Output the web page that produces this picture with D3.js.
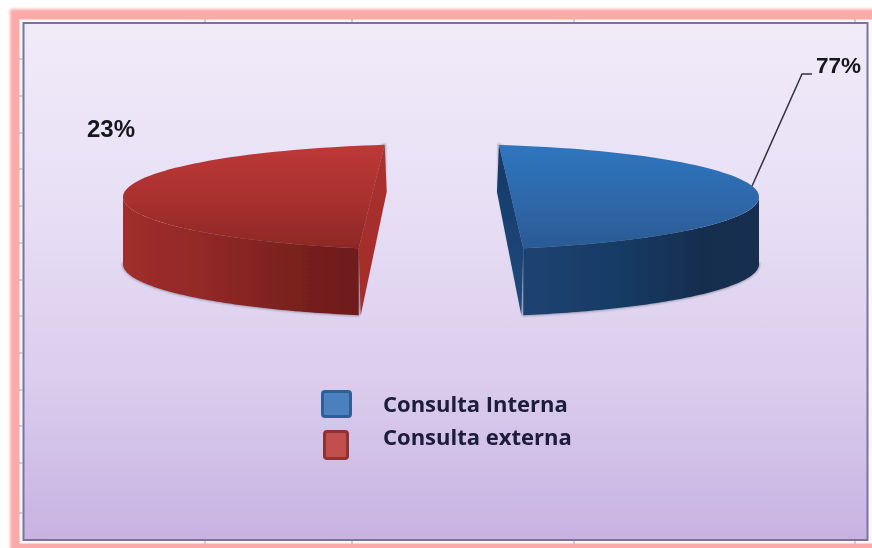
<!DOCTYPE html>
<html><head><meta charset="utf-8">
<script src="https://cdn.jsdelivr.net/npm/d3@7"></script>
<style>html,body{margin:0;padding:0;background:#fff;overflow:hidden}svg{display:block}</style>
</head><body><svg id="c" width="872" height="548"></svg>
<script>
const categories = ["Consulta Interna", "Consulta externa"];
const values = [77, 23];
const tickTopX = [205, 352, 574, 855];
const tickLeftY = [59, 96, 133, 169, 206, 243, 280, 316, 353, 390, 426, 463, 513];

const W = 872, H = 548;
const svg = d3.select("#c");
const defs = svg.append("defs");
function grad(id, x2, y2, stops){
  const g = defs.append("linearGradient").attr("id", id).attr("x1",0).attr("y1",0).attr("x2",x2).attr("y2",y2);
  stops.forEach(s => g.append("stop").attr("offset", s[0]).attr("stop-color", s[1]));
}
grad("panel",0,1,[[0,"#f0ebf9"],[0.35,"#e8dff5"],[0.7,"#dacced"],[1,"#c8b2e2"]]);
grad("topBlue",0,1,[[0,"#2f75bf"],[0.5,"#2f69ab"],[1,"#2b5a94"]]);
grad("topRed",0,1,[[0,"#bd3837"],[0.55,"#a8302e"],[1,"#8c2825"]]);
grad("frontBlue",1,0,[[0,"#1c4372"],[0.45,"#183a63"],[0.75,"#132d4e"],[1,"#152f4f"]]);
grad("frontRed",1,0,[[0,"#a12e2c"],[0.4,"#8f2826"],[0.8,"#751f1c"],[1,"#6f1f1b"]]);
grad("facetBlue",0,1,[[0,"#153a66"],[1,"#1f4a7e"]]);
grad("facetRed",0,1,[[0,"#ab302e"],[1,"#a32e2b"]]);
defs.append("filter").attr("id","soft").append("feGaussianBlur").attr("stdDeviation",0.6);
defs.append("filter").attr("id","glow").attr("x","-5%").attr("y","-5%").attr("width","110%").attr("height","110%").append("feGaussianBlur").attr("stdDeviation",1.8);
defs.append("filter").attr("id","shadow").attr("x","-10%").attr("y","-10%").attr("width","120%").attr("height","120%").append("feGaussianBlur").attr("stdDeviation",1.2);

svg.append("rect").attr("width",W).attr("height",H).attr("fill","#fff");
// pink frame
svg.append("rect").attr("x",10).attr("y",9).attr("width",W+30).attr("height",H+30).attr("fill","#fbaaa9").attr("filter","url(#glow)");
const root = svg.append("g").attr("filter","url(#soft)");
root.append("rect").attr("x",19.5).attr("y",19.5).attr("width",W).attr("height",524).attr("fill","#fbf6f8");
root.append("rect").attr("x",23.5).attr("y",23).attr("width",844).attr("height",517).attr("fill","url(#panel)").attr("stroke","#77749c").attr("stroke-width",2);
tickTopX.forEach(x=>{
  root.append("line").attr("x1",x).attr("x2",x).attr("y1",19).attr("y2",22).attr("stroke","#aaa6bb");
  root.append("line").attr("x1",x).attr("x2",x).attr("y1",541).attr("y2",544).attr("stroke","#aaa6bb");
});
tickLeftY.forEach(y=>root.append("line").attr("x1",19).attr("x2",23).attr("y1",y).attr("y2",y).attr("stroke","#aaa6bb"));

// pie geometry: one tilted ellipse, slices drawn on it
const ux = d3.scaleLinear().domain([-1,1]).range([123,759]);
const uy = d3.scaleLinear().domain([-1,1]).range([144,250]);
const depth = 67;
const deg = d => d*Math.PI/180;
const pt = (t,dy=0) => [ux(Math.cos(deg(t))), uy(Math.sin(deg(t)))+dy];
const line = d3.line();
const span = (a,b,dy=0,n=80) => d3.range(n+1).map(i=>pt(a+(b-a)*i/n,dy));

const slices = [
  {i:0, from:-79.5, to:75, side:0, top:"url(#topBlue)", front:"url(#frontBlue)", facet:"url(#facetBlue)", nudge:-2},
  {i:1, from:259.8, to:105, side:180, top:"url(#topRed)", front:"url(#frontRed)", facet:"url(#facetRed)", nudge:2}
];
const back = depth*0.7;
slices.forEach(s=>{
  const g = root.append("g");
  const a = pt(s.from), b = pt(s.to), bb = pt(s.to,depth), ab = pt(s.from,back);
  const frontPts = span(s.to,s.side).concat(span(s.side,s.to,depth));
  const outline = line(span(s.side,s.to,depth).concat([ab, a]))+"Z";
  g.append("path").attr("d",outline).attr("fill","#6f7084").attr("stroke","#6f7084").attr("stroke-width",2)
    .attr("opacity",0.6).attr("filter","url(#shadow)");
  g.append("path").attr("d",line(frontPts)+"Z").attr("fill",s.front);
  g.append("path").attr("d",line([a,b,[bb[0]+s.nudge,bb[1]],[ab[0]+s.nudge,ab[1]]])+"Z").attr("fill",s.facet);
  g.append("path").attr("d",line(span(s.from,s.to))+"Z").attr("fill",s.top);
});

// labels
const labelFont = "'Liberation Sans',Arial,sans-serif";
root.append("path").attr("d",line([pt(-12),[802,74],[812,74]])).attr("fill","none").attr("stroke","#33333f").attr("stroke-width",1.5);
[{x:816,y:73,size:22.5},{x:87,y:137,size:24}].forEach((p,i)=>{
  root.append("text").attr("x",p.x).attr("y",p.y).attr("font-family",labelFont).attr("font-weight",700)
    .attr("font-size",p.size).attr("fill","#15151f").text(values[i]+"%");
});

// legend
const legend = [
  {x:322.5,y:391.5,w:28,h:25,fill:"#4a80bd",stroke:"#2d5f96",ty:412},
  {x:324.5,y:431.5,w:23,h:27,fill:"#c0504d",stroke:"#8f3230",ty:445}
];
legend.forEach((l,i)=>{
  root.append("rect").attr("x",l.x).attr("y",l.y).attr("width",l.w).attr("height",l.h).attr("rx",2.5)
    .attr("fill",l.fill).attr("stroke",l.stroke).attr("stroke-width",3);
  root.append("text").attr("x",383).attr("y",l.ty).attr("font-family","'Open Sans',sans-serif").attr("font-weight",700)
    .attr("font-size",22).attr("fill","#1b1a3a").text(categories[i]);
});
</script></body></html>
